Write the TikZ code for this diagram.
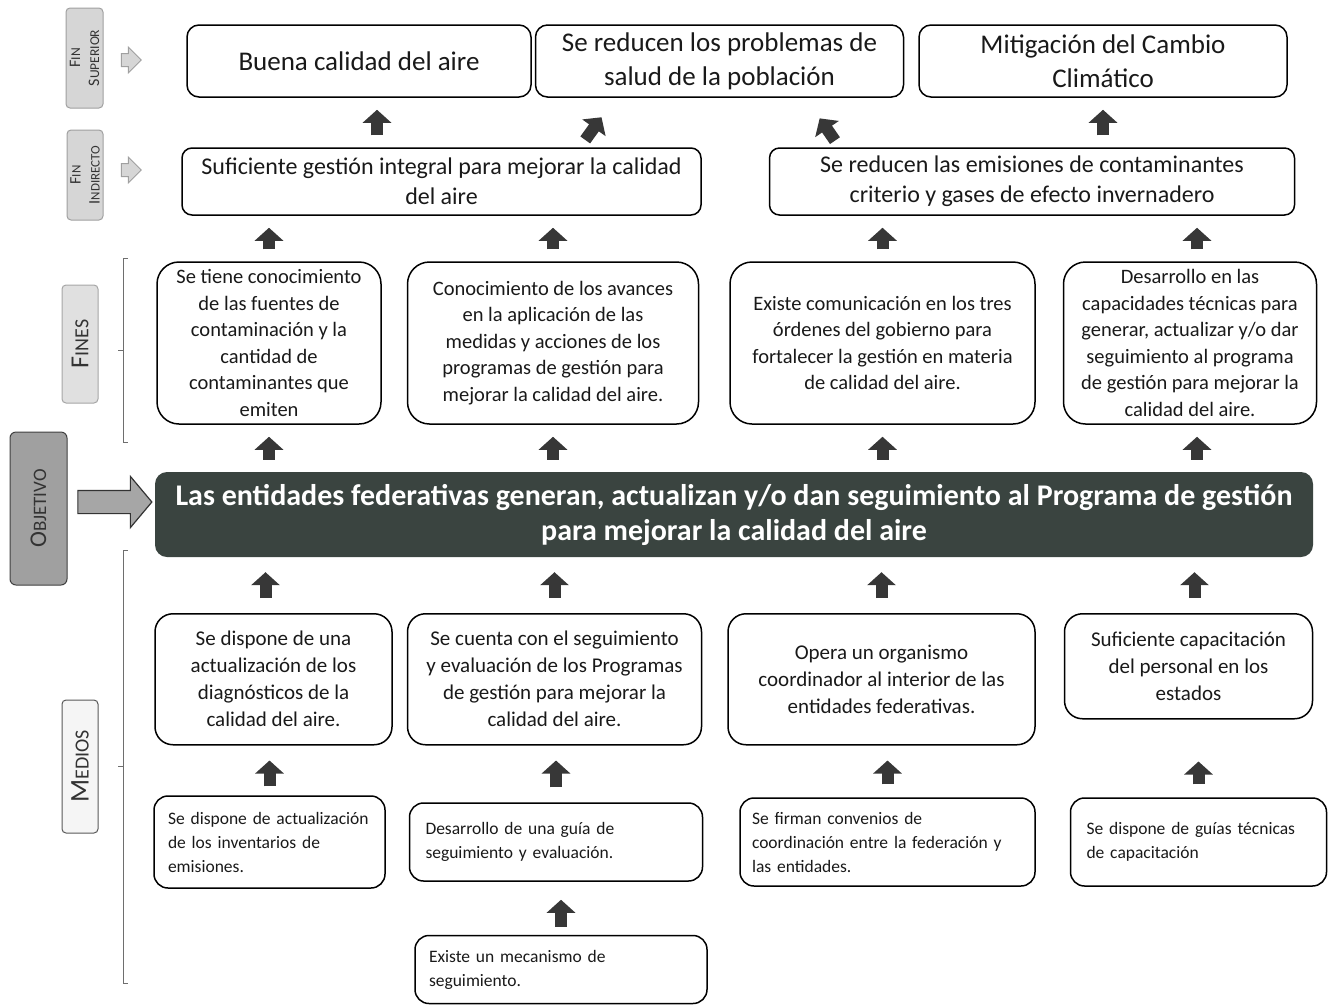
\documentclass[tikz,border=0pt]{standalone}
\usepackage{fontspec}
\setmainfont{Carlito}
\usepackage{tikz}
\usetikzlibrary{
  arrows.meta,
  calc,
  positioning,
  shapes.arrows
}
\definecolor{objdark}{RGB}{58,68,64}
\definecolor{arrowdark}{RGB}{55,55,55}
\definecolor{inkblack}{RGB}{25,25,25}
\definecolor{labfill}{RGB}{214,214,214}
\definecolor{labedge}{RGB}{160,160,160}
\definecolor{objlabfill}{RGB}{160,160,160}
\definecolor{bracketgray}{RGB}{110,110,110}

% first letter of a small-caps label
\newcommand{\initcap}[2]{{\fontsize{#1}{#1}\selectfont #2}}

\begin{document}
\begin{tikzpicture}[x=1pt, y=-1pt,
  topbox/.style={draw=black, line width=1.5pt, rounded corners=12pt, align=center,
    inner sep=0pt, text=inkblack, font=\fontsize{27}{34}\selectfont},
  indbox/.style={topbox, rounded corners=10pt, font=\fontsize{24}{30}\selectfont},
  finbox/.style={topbox, rounded corners=22pt, minimum height=162pt,
    font=\fontsize{20.5}{26.5}\selectfont},
  medbox/.style={topbox, rounded corners=18pt, font=\fontsize{21}{27}\selectfont},
  subbox/.style={topbox, rounded corners=14pt, align=left, inner xsep=16pt,
    inner ysep=0pt, font=\fontsize{17.5}{24}\selectfont},
  objbox/.style={fill=objdark, rounded corners=12pt, align=center, inner sep=0pt,
    text=white, font=\bfseries\fontsize{30}{35}\selectfont},
  sidelab/.style={draw=labedge, fill=labfill, line width=1pt, rounded corners=4pt,
    rotate=90, align=center, inner sep=0pt, text=black!80},
  blkarrow/.style={draw=arrowdark, line width=12pt, -{Triangle[length=13pt,width=28pt]},
    shorten >=12pt, shorten <=12pt},
  hollowarr/.style={single arrow, draw=labedge, fill=labfill, line width=1pt,
    inner xsep=0pt, inner ysep=6pt, single arrow head extend=6.5pt, minimum height=20pt},
  bracketline/.style={draw=bracketgray, line width=0.8pt}
]
  \useasboundingbox (0,0) rectangle (1329,1004);

  % Fin superior
  \node[topbox, minimum width=344pt, minimum height=72pt] (sup1) at (359,61)
    {Buena calidad del aire};
  \node[topbox, minimum width=368pt, minimum height=72pt, right=3pt of sup1] (sup2)
    {Se reducen los problemas de\\salud de la población};
  \node[topbox, minimum width=368pt, minimum height=72pt, right=14pt of sup2] (sup3)
    {Mitigación del Cambio\\Climático};

  % Fin indirecto
  \node[indbox, minimum width=519pt, minimum height=67pt] (ind1) at (441.5,181.5)
    {Suficiente gestión integral para mejorar la calidad\\del aire};
  \node[indbox, minimum width=525pt, minimum height=67pt, right=67pt of ind1] (ind2)
    {Se reducen las emisiones de contaminantes\\criterio y gases de efecto invernadero};

  % Fines
  \node[finbox, minimum width=224pt] (fin1) at (269,343)
    {Se tiene conocimiento\\de las fuentes de\\contaminación y la\\cantidad de\\contaminantes que\\emiten};
  \node[finbox, minimum width=291pt, right=25pt of fin1] (fin2)
    {Conocimiento de los avances\\en la aplicación de las\\medidas y acciones de los\\programas de gestión para\\mejorar la calidad del aire.};
  \node[finbox, minimum width=305pt, right=30pt of fin2] (fin3)
    {Existe comunicación en los tres\\órdenes del gobierno para\\fortalecer la gestión en materia\\de calidad del aire.};
  \node[finbox, minimum width=253pt, right=27pt of fin3] (fin4)
    {Desarrollo en las\\capacidades técnicas para\\generar, actualizar y/o dar\\seguimiento al programa\\de gestión para mejorar la\\calidad del aire.};

  % Objetivo
  \node[objbox, minimum width=1158pt, minimum height=85pt] (obj) at (734,514.5)
    {Las entidades federativas generan, actualizan y/o dan seguimiento al Programa de gestión\\para mejorar la calidad del aire};

  % Medios
  \node[medbox, minimum width=237pt, minimum height=131pt, anchor=north] (med1) at (273.5,613)
    {Se dispone de una\\actualización de los\\diagnósticos de la\\calidad del aire.};
  \node[medbox, minimum width=294pt, minimum height=131pt, right=14pt of med1] (med2)
    {Se cuenta con el seguimiento\\y evaluación de los Programas\\de gestión para mejorar la\\calidad del aire.};
  \node[medbox, minimum width=307pt, minimum height=131pt, right=25pt of med2] (med3)
    {Opera un organismo\\coordinador al interior de las\\entidades federativas.};
  \node[medbox, minimum width=248pt, minimum height=105pt, right=28pt of med3.north east,
        anchor=north west] (med4)
    {Suficiente capacitación\\del personal en los\\estados};

  % Sub-medios
  \node[subbox, inner xsep=14pt, text width=203pt, minimum height=92pt] (sub1) at (269.5,842)
    {Se dispone de actualización\\de los inventarios de\\emisiones.};
  \node[subbox, text width=261pt, minimum height=78pt, right=23pt of sub1] (sub2)
    {Desarrollo de una guía de\\seguimiento y evaluación.};
  \node[subbox, inner xsep=12pt, text width=271pt, minimum height=88pt, right=36pt of sub2] (sub3)
    {Se firman convenios de\\coordinación entre la federación y\\las entidades.};
  \node[subbox, text width=224pt, minimum height=88pt, right=34pt of sub3] (sub4)
    {Se dispone de guías técnicas\\de capacitación};
  \node[subbox, inner xsep=14pt, text width=264pt, minimum height=68pt, below=53pt of sub2,
        xshift=5pt] (sub5)
    {Existe un mecanismo de\\seguimiento.};

  % Side labels
  \node[sidelab, minimum width=100pt, minimum height=37pt, font=\fontsize{13.5}{19}\selectfont]
    (lsup) at (84.5,58) {\initcap{16}{F}IN\\\initcap{16}{S}UPERIOR};
  \node[sidelab, minimum width=90pt, minimum height=36pt, font=\fontsize{13}{19}\selectfont]
    (lind) at (85,175) {\initcap{16}{F}IN\\\initcap{16}{I}NDIRECTO};
  \node[sidelab, fill=black!12, draw=black!35, minimum width=118pt, minimum height=36pt,
        font=\fontsize{20}{20}\selectfont] (lfin) at (80,344) {\initcap{26}{F}INES};
  \node[sidelab, fill=objlabfill, draw=black!75, rounded corners=6pt, minimum width=153pt,
        minimum height=57pt, font=\fontsize{19}{19}\selectfont] (lobj) at (38.5,508.5)
    {\initcap{24}{O}BJETIVO};
  \node[sidelab, fill=black!4, draw=black!65, minimum width=133pt, minimum height=36pt,
        font=\fontsize{20}{20}\selectfont] (lmed) at (80,766.5) {\initcap{27}{M}EDIOS};

  % Hollow arrows
  \node[hollowarr] (asup) at (128,60) {};
  \node[hollowarr] (aind) at (128,170) {};
  \node[hollowarr, fill=black!35, draw=black!80, line width=1.2pt, minimum height=74pt,
        inner ysep=11pt, single arrow head extend=14pt, single arrow tip angle=100]
    (aobj) at (110,502) {};

  % Brackets
  \draw[bracketline] (128,258) -- (123,258) -- (123,442) -- (128,442);
  \draw[bracketline] (123,350) -- (118,350);
  \draw[bracketline] (128,550) -- (123,550) -- (123,983) -- (128,983);
  \draw[bracketline] (123,766) -- (118,766);

  % Arrows to fin superior
  \draw[blkarrow] ($(sup1.south |- ind1.north)+(18,0)$) -- ($(sup1.south)+(18,0)$);
  \draw[blkarrow, shorten <=9pt, shorten >=24pt] ($(ind1.north)+(138.5,0)$) -- ($(sup2.south)+(-104,0)$);
  \draw[blkarrow, shorten <=8pt, shorten >=25pt] ($(ind2.north)+(-192.5,0)$) -- ($(sup2.south)+(86,0)$);
  \draw[blkarrow] (sup3.south |- ind2.north) -- (sup3.south);

  % Arrows to fin indirecto
  \draw[blkarrow] (fin1.north) -- (fin1.north |- ind1.south);
  \draw[blkarrow] (fin2.north) -- (fin2.north |- ind1.south);
  \draw[blkarrow] (fin3.north) -- (fin3.north |- ind2.south);
  \draw[blkarrow] ($(fin4.north)+(7,0)$) -- ($(fin4.north |- ind2.south)+(7,0)$);

  % Arrows to fines
  \draw[blkarrow] (obj.north -| fin1.north) -- (fin1.south);
  \draw[blkarrow] (obj.north -| fin2.north) -- (fin2.south);
  \draw[blkarrow] (obj.north -| fin3.north) -- (fin3.south);
  \draw[blkarrow] ($(obj.north -| fin4.north)+(7,0)$) -- ($(fin4.south)+(7,0)$);

  % Arrows to objetivo
  \draw[blkarrow, shorten <=15pt, shorten >=15pt] ($(med1.north)+(-8,0)$) -- ($(med1.north |- obj.south)+(-8,0)$);
  \draw[blkarrow, shorten <=15pt, shorten >=15pt] (med2.north) -- (med2.north |- obj.south);
  \draw[blkarrow, shorten <=15pt, shorten >=15pt] (med3.north) -- (med3.north |- obj.south);
  \draw[blkarrow, shorten <=15pt, shorten >=15pt] ($(med4.north)+(6,0)$) -- ($(med4.north |- obj.south)+(6,0)$);

  % Arrows to medios
  \draw[blkarrow, shorten <=9pt, shorten >=15pt] (sub1.north) -- (sub1.north |- med1.south);
  \draw[blkarrow, shorten <=15pt, shorten >=15pt] (sub2.north) -- (sub2.north |- med2.south);
  \draw[blkarrow, shorten <=13pt, shorten >=15pt] (sub3.north) -- (sub3.north |- med3.south);
  \draw[blkarrow, shorten <=13pt, shorten >=42pt] (sub4.north) -- (sub4.north |- med4.south);
  \draw[blkarrow, shorten <=8pt, shorten >=18pt] (sub5.north) -- (sub5.north |- sub2.south);
\end{tikzpicture}
\end{document}
